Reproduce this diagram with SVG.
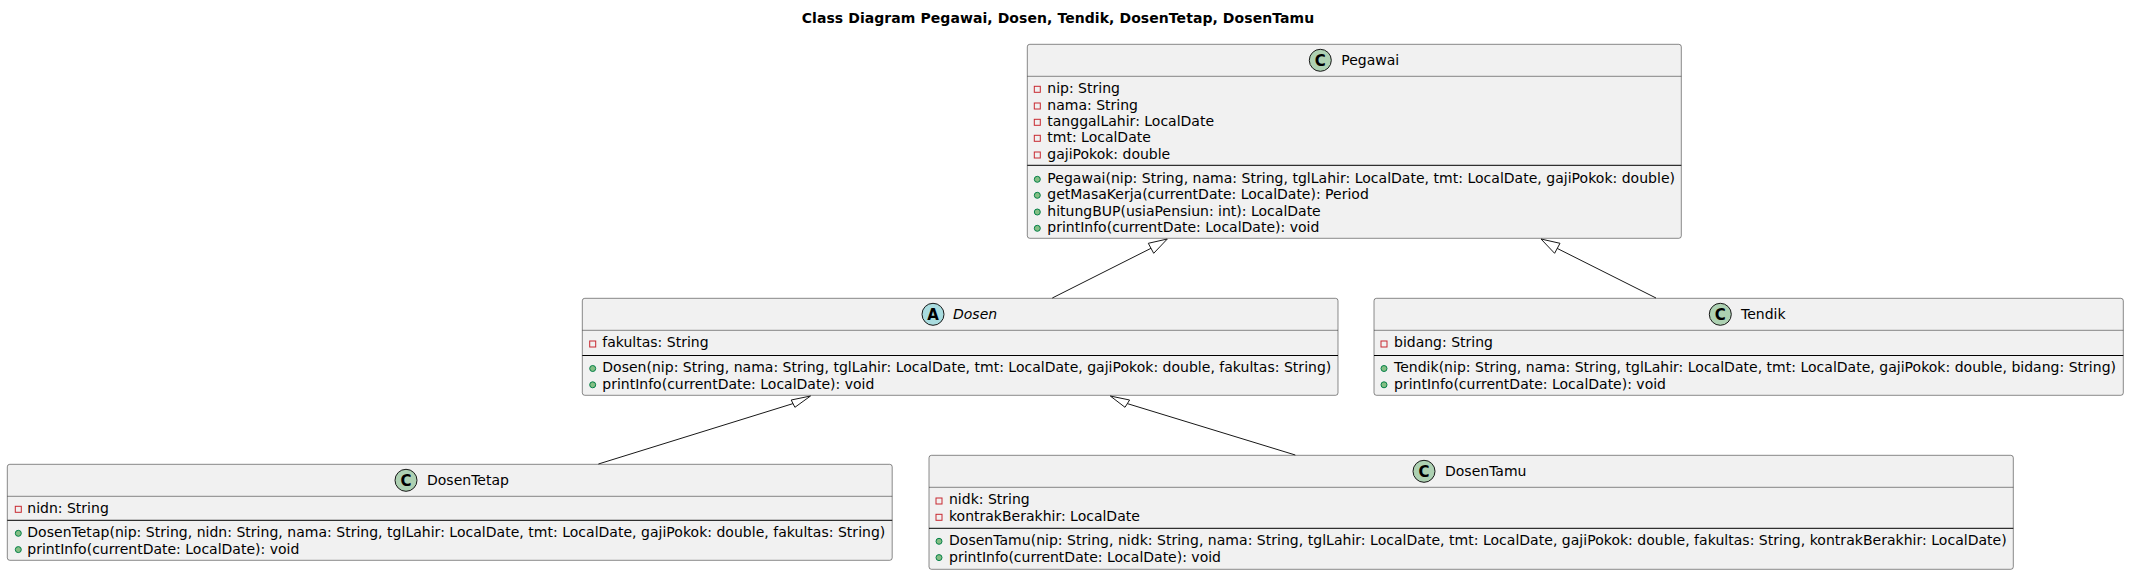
<svg xmlns="http://www.w3.org/2000/svg" width="2129" height="575" viewBox="0 0 2129 575">
<style>
text{font-family:"DejaVu Sans",sans-serif;font-size:14px;fill:#000}
.title{font-weight:bold}
.box{fill:#F1F1F1;stroke:#181818;stroke-width:.5}
.hs{stroke:#181818;stroke-width:.5}
.ms{stroke:#000;stroke-width:1}
.pri{fill:none;stroke:#C82930;stroke-width:1}
.pub{fill:#84BE84;stroke:#038048;stroke-width:1}
.sym{stroke:#181818;stroke-width:1}
.c{fill:#ADD1B2}
.a{fill:#A9DCDF}
.g{font-weight:bold;font-size:15px;text-anchor:middle}
.edge{stroke:#181818;stroke-width:1;fill:none}
.head{stroke:#181818;stroke-width:1;fill:#fff}
</style>
<rect width="2129" height="575" fill="#fff"/>
<text class="title" x="801.7" y="22.6" textLength="512.5">Class Diagram Pegawai, Dosen, Tendik, DosenTetap, DosenTamu</text>
<g id="Pegawai">
<rect class="box" x="1027.3" y="44.3" width="654" height="194" rx="2.5"/>
<line class="hs" x1="1027.3" y1="76.3" x2="1681.3" y2="76.3"/>
<line class="ms" x1="1027.3" y1="165.3" x2="1681.3" y2="165.3"/>
<circle class="sym c" cx="1320.3" cy="60.3" r="11"/><text class="g" x="1320.3" y="65.8">C</text>
<text x="1341.3" y="65">Pegawai</text>
<rect class="pri" x="1034.3" y="86.3" width="6" height="6"/><text x="1047.3" y="93.3">nip: String</text>
<rect class="pri" x="1034.3" y="103" width="6" height="6"/><text x="1047.3" y="109.6">nama: String</text>
<rect class="pri" x="1034.3" y="119.3" width="6" height="6"/><text x="1047.3" y="125.9">tanggalLahir: LocalDate</text>
<rect class="pri" x="1034.3" y="135.3" width="6" height="6"/><text x="1047.3" y="142.2">tmt: LocalDate</text>
<rect class="pri" x="1034.3" y="152" width="6" height="6"/><text x="1047.3" y="158.5">gajiPokok: double</text>
<circle class="pub" cx="1037.3" cy="179.3" r="3"/><text x="1047.3" y="183" textLength="627.7">Pegawai(nip: String, nama: String, tglLahir: LocalDate, tmt: LocalDate, gajiPokok: double)</text>
<circle class="pub" cx="1037.3" cy="195.3" r="3"/><text x="1047.3" y="199.3">getMasaKerja(currentDate: LocalDate): Period</text>
<circle class="pub" cx="1037.3" cy="212" r="3"/><text x="1047.3" y="215.6">hitungBUP(usiaPensiun: int): LocalDate</text>
<circle class="pub" cx="1037.3" cy="228.3" r="3"/><text x="1047.3" y="231.9">printInfo(currentDate: LocalDate): void</text>
</g>
<g id="Dosen">
<rect class="box" x="582.3" y="298.3" width="755.7" height="97" rx="2.5"/>
<line class="hs" x1="582.3" y1="330.3" x2="1338" y2="330.3"/>
<line class="ms" x1="582.3" y1="355.5" x2="1338" y2="355.5"/>
<circle class="sym a" cx="933" cy="314.3" r="11"/><text class="g" x="933" y="319.8">A</text>
<text x="953" y="319" font-style="italic">Dosen</text>
<rect class="pri" x="589.7" y="341" width="6" height="6"/><text x="602.3" y="347.3">fakultas: String</text>
<circle class="pub" cx="592.7" cy="368.5" r="3"/><text x="602.3" y="372.3" textLength="729">Dosen(nip: String, nama: String, tglLahir: LocalDate, tmt: LocalDate, gajiPokok: double, fakultas: String)</text>
<circle class="pub" cx="592.7" cy="384.8" r="3"/><text x="602.3" y="388.6">printInfo(currentDate: LocalDate): void</text>
</g>
<g id="Tendik">
<rect class="box" x="1374" y="298.3" width="749.3" height="97" rx="2.5"/>
<line class="hs" x1="1374" y1="330.3" x2="2123.3" y2="330.3"/>
<line class="ms" x1="1374" y1="355.5" x2="2123.3" y2="355.5"/>
<circle class="sym c" cx="1720.3" cy="314.3" r="11"/><text class="g" x="1720.3" y="319.8">C</text>
<text x="1741" y="319">Tendik</text>
<rect class="pri" x="1381" y="341" width="6" height="6"/><text x="1394" y="347.3">bidang: String</text>
<circle class="pub" cx="1384" cy="368.5" r="3"/><text x="1394" y="372.3" textLength="722">Tendik(nip: String, nama: String, tglLahir: LocalDate, tmt: LocalDate, gajiPokok: double, bidang: String)</text>
<circle class="pub" cx="1384" cy="384.8" r="3"/><text x="1394" y="388.6">printInfo(currentDate: LocalDate): void</text>
</g>
<g id="DosenTetap">
<rect class="box" x="7.3" y="464.3" width="884.9" height="96" rx="2.5"/>
<line class="hs" x1="7.3" y1="496.3" x2="892.2" y2="496.3"/>
<line class="ms" x1="7.3" y1="520.3" x2="892.2" y2="520.3"/>
<circle class="sym c" cx="406" cy="480.3" r="11"/><text class="g" x="406" y="485.8">C</text>
<text x="427" y="485">DosenTetap</text>
<rect class="pri" x="15.3" y="506.3" width="6" height="6"/><text x="27.3" y="513.3">nidn: String</text>
<circle class="pub" cx="18.3" cy="533.3" r="3"/><text x="27.3" y="537.3" textLength="858">DosenTetap(nip: String, nidn: String, nama: String, tglLahir: LocalDate, tmt: LocalDate, gajiPokok: double, fakultas: String)</text>
<circle class="pub" cx="18.3" cy="549.6" r="3"/><text x="27.3" y="553.6">printInfo(currentDate: LocalDate): void</text>
</g>
<g id="DosenTamu">
<rect class="box" x="929" y="455.3" width="1084.3" height="114" rx="2.5"/>
<line class="hs" x1="929" y1="487.3" x2="2013.3" y2="487.3"/>
<line class="ms" x1="929" y1="528.3" x2="2013.3" y2="528.3"/>
<circle class="sym c" cx="1424" cy="471.3" r="11"/><text class="g" x="1424" y="476.8">C</text>
<text x="1445" y="476">DosenTamu</text>
<rect class="pri" x="936" y="498" width="6" height="6"/><text x="949" y="504.3">nidk: String</text>
<rect class="pri" x="936" y="514.3" width="6" height="6"/><text x="949" y="520.6">kontrakBerakhir: LocalDate</text>
<circle class="pub" cx="939" cy="541.3" r="3"/><text x="949" y="545.3" textLength="1057.7">DosenTamu(nip: String, nidk: String, nama: String, tglLahir: LocalDate, tmt: LocalDate, gajiPokok: double, fakultas: String, kontrakBerakhir: LocalDate)</text>
<circle class="pub" cx="939" cy="557.6" r="3"/><text x="949" y="561.6">printInfo(currentDate: LocalDate): void</text>
</g>
<g id="connectors">
<line class="edge" x1="1052.3" y1="298" x2="1151" y2="248.3"/>
<polygon class="head" points="1167.3,239 1148.3,243.3 1153.7,253.3"/>
<line class="edge" x1="1656" y1="298" x2="1557" y2="248.3"/>
<polygon class="head" points="1541,239 1560,243.3 1554.6,253.3"/>
<line class="edge" x1="598.4" y1="464" x2="793" y2="403.6"/>
<polygon class="head" points="810.5,396 791.2,400 794.9,407.3"/>
<line class="edge" x1="1295.3" y1="455" x2="1127.3" y2="403.6"/>
<polygon class="head" points="1110.3,396 1129.6,400 1125,407.3"/>
</g>
</svg>
